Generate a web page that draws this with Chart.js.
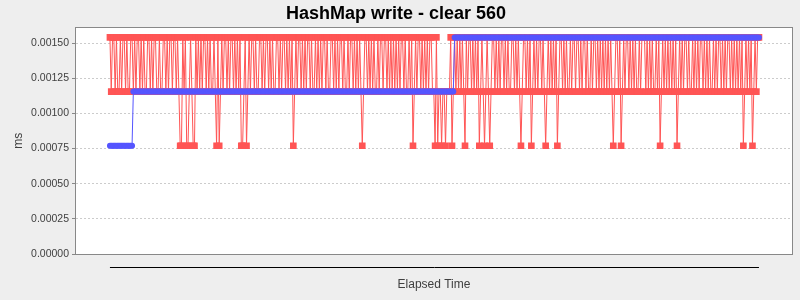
<!DOCTYPE html>
<html>
<head>
<meta charset="utf-8">
<title>HashMap write - clear 560</title>
<script src="https://cdn.jsdelivr.net/npm/chart.js@4.4.1/dist/chart.umd.min.js"></script>
<style>
  body { margin: 0; background: #eeeeee; }
  #chart { display: block; }
</style>
</head>
<body>
<canvas id="chart" width="800" height="300"></canvas>
<script>
// =========================
// Data
// =========================
// measured values sit on three levels (timer resolution), codes read off the plot
const levelValues = { L: 0.00077, M: 0.001155, H: 0.00154 };

const redCodes = [
    "HMHHMHMMHM HHMHMMHHMH MHHMHMHMMH HMHMHHMMHM MHHMHMHHMH",
    "HMHMLLHMHL LMHMLLHMHM HMHHMHMHMM HMLHLMHMHH MHMHHMHMHM",
    "HLLMHLMHMH HMHMMHHMHM HHMHMHMMHH MHMHHMHMHM HLMHMHHMHM",
    "HMHHMHMMHM HMHMHHMHMM HHMHMHMHHM HMMHMHHMHM HMHMLMHHMH",
    "MHMHMMHMHH MHHMHMHMHM HMHMHHMHMM HMHLMHMHHM HMHMHMHHMM",
    "LHLMMLMMLM MMHLMHMHMH MHMLHMHHMH MHMHLMHMLM HMLMHHMHMH",
    "MHHMHMHMMH HMHMHMLMHH MHMHLMHMHM HHMHMLMHMH MHMHLMHHMH",
    "MHMMHMHHMH HMHMHHMHMM HMHHMHMHMH MHMHMHMLMH HMHLMHMHHM",
    "HMHMHMMHMH HHMHMHMHMM HMHLMHMHMH MHMHMHLMHM HMHHMHMMHM",
    "HMHMHHMHMH MHMMHMHMHH MHMHMHHMHM HMHMHMHLMH MHMHLMHMHH"
];

const blueCodes = [
    "LLLLLLLLLL LLLLLLLLMM MMMMMMMMMM MMMMMMMMMM MMMMMMMMMM",
    "MMMMMMMMMM MMMMMMMMMM MMMMMMMMMM MMMMMMMMMM MMMMMMMMMM",
    "MMMMMMMMMM MMMMMMMMMM MMMMMMMMMM MMMMMMMMMM MMMMMMMMMM",
    "MMMMMMMMMM MMMMMMMMMM MMMMMMMMMM MMMMMMMMMM MMMMMMMMMM",
    "MMMMMMMMMM MMMMMMMMMM MMMMMMMMMM MMMMMMMMMM MMMMMMMMMM",
    "MMMMMMMMMM MMMMMHHHHH HHHHHHHHHH HHHHHHHHHH HHHHHHHHHH",
    "HHHHHHHHHH HHHHHHHHHH HHHHHHHHHH HHHHHHHHHH HHHHHHHHHH",
    "HHHHHHHHHH HHHHHHHHHH HHHHHHHHHH HHHHHHHHHH HHHHHHHHHH",
    "HHHHHHHHHH HHHHHHHHHH HHHHHHHHHH HHHHHHHHHH HHHHHHHHHH",
    "HHHHHHHHHH HHHHHHHHHH HHHHHHHHHH HHHHHHHHHH HHHHHHHHHH"
];

const yTicks = [0, 0.00025, 0.0005, 0.00075, 0.001, 0.00125, 0.0015];

function toPoints(codes){
    const chars = codes.join("").replace(/\s+/g, "").split("");
    return chars.map((c, i) => ({ x: i, y: levelValues[c] }));
}

const redPoints = toPoints(redCodes);
const bluePoints = toPoints(blueCodes);
const lastIndex = redPoints.length - 1;

// =========================
// Plot frame
// =========================
const plotFrame = {
    id: "plotFrame",
    beforeDraw(chart){
        const { ctx, chartArea: a } = chart;
        ctx.save();
        ctx.fillStyle = "#ffffff";
        ctx.fillRect(a.left, a.top, a.right - a.left, a.bottom - a.top);
        ctx.restore();
    },
    beforeDatasetsDraw(chart){
        const { ctx, chartArea: a } = chart;
        ctx.save();
        ctx.strokeStyle = "#888888";
        ctx.lineWidth = 1;
        ctx.strokeRect(Math.round(a.left) - 0.5, Math.round(a.top) - 0.5,
            Math.round(a.right - a.left) + 1, Math.round(a.bottom - a.top) + 1);
        ctx.restore();
    },
    afterDraw(chart){
        const { ctx, chartArea: a, scales } = chart;
        const y = Math.round(a.bottom) + 13.5;
        ctx.save();
        ctx.strokeStyle = "#000000";
        ctx.lineWidth = 1;
        ctx.beginPath();
        ctx.moveTo(scales.x.getPixelForValue(0), y);
        ctx.lineTo(scales.x.getPixelForValue(lastIndex), y);
        ctx.stroke();
        ctx.restore();
    }
};

Chart.defaults.font.family = "'Liberation Sans', Arial, sans-serif";

new Chart(document.getElementById("chart"), {
    type: "line",
    data: {
        datasets: [
            {
                label: "clear",
                data: bluePoints,
                borderColor: "#5555ff",
                borderWidth: 1,
                pointStyle: "circle",
                pointRadius: 3,
                pointBorderWidth: 0,
                pointBackgroundColor: "#5555ff",
                tension: 0,
                order: 1
            },
            {
                label: "write",
                data: redPoints,
                borderColor: "#ff5555",
                borderWidth: 1,
                pointStyle: "rect",
                pointRadius: 4.7,
                pointBorderWidth: 0,
                pointBackgroundColor: "#ff5555",
                tension: 0,
                order: 2
            }
        ]
    },
    options: {
        responsive: false,
        animation: false,
        events: [],
        layout: { padding: { left: 0, right: 8, top: 0, bottom: 0 } },
        plugins: {
            legend: { display: false },
            tooltip: { enabled: false },
            title: {
                display: true,
                text: "HashMap write - clear 560",
                color: "#000000",
                font: { size: 18, weight: "bold" },
                padding: { top: 3, bottom: 3 }
            }
        },
        scales: {
            x: {
                type: "linear",
                min: -26.1,
                max: 524.4,
                ticks: { display: false },
                grid: { display: false },
                border: { display: false },
                title: {
                    display: true,
                    text: "Elapsed Time",
                    color: "#404040",
                    font: { size: 12 },
                    padding: { top: 0, bottom: 8 }
                },
                afterFit(scale){ scale.height = 46; }
            },
            y: {
                min: 0,
                max: 0.00161,
                afterBuildTicks(scale){
                    scale.ticks = yTicks.map(v => ({ value: v }));
                },
                ticks: {
                    color: "#404040",
                    font: { size: 10.5 },
                    padding: 3,
                    callback: v => Number(v).toFixed(5)
                },
                grid: {
                    color: "#cccccc",
                    tickColor: "#888888",
                    tickLength: 4,
                    tickBorderDash: []
                },
                border: { display: false, dash: [2, 2] },
                title: {
                    display: true,
                    text: "ms",
                    color: "#404040",
                    font: { size: 12 },
                    padding: { top: 11, bottom: 0 }
                },
                afterFit(scale){ scale.width = 76; }
            }
        }
    },
    plugins: [plotFrame]
});
</script>
</body>
</html>
